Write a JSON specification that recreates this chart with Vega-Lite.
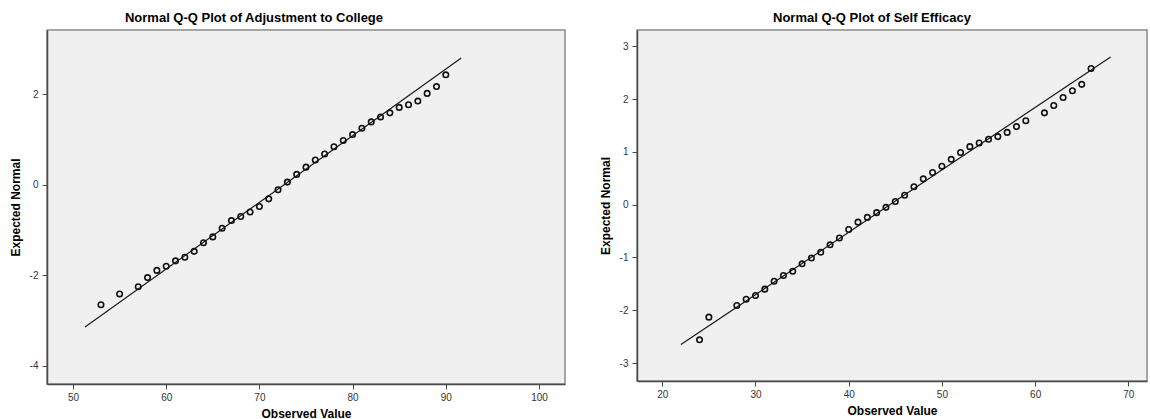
{
  "$schema": "https://vega.github.io/schema/vega-lite/v6.json",
  "padding": {"left": 8, "top": 11, "right": 2, "bottom": 0},
  "background": "white",
  "bounds": "flush",
  "spacing": 72,
  "config": {
    "font": "Liberation Sans",
    "view": {"fill": "#f0f0f0", "stroke": "#8a8a8a", "strokeWidth": 1.5},
    "axis": {
      "grid": false,
      "domainColor": "#4a4a4a",
      "domainWidth": 1.5,
      "tickColor": "#4a4a4a",
      "tickSize": 5,
      "labelFont": "Liberation Sans",
      "labelFontSize": 10,
      "labelColor": "#333333",
      "labelExpr": "'' + datum.value",
      "titleFont": "Liberation Sans",
      "titleFontSize": 12,
      "titleFontWeight": "bold",
      "titleColor": "#000000"
    },
    "axisX": {"labelPadding": 3, "titlePadding": 6},
    "axisY": {"labelPadding": 4, "titlePadding": 7},
    "title": {"font": "Liberation Sans", "fontSize": 13, "fontWeight": "bold", "color": "#000000", "offset": 5, "frame": "group", "anchor": "middle"}
  },
  "datasets": {
    "adj": [
      {"obs": 53, "exp": -2.65}, {"obs": 55, "exp": -2.41}, {"obs": 57, "exp": -2.25},
      {"obs": 58, "exp": -2.05}, {"obs": 59, "exp": -1.89}, {"obs": 60, "exp": -1.80},
      {"obs": 61, "exp": -1.68}, {"obs": 62, "exp": -1.60}, {"obs": 63, "exp": -1.47},
      {"obs": 64, "exp": -1.28}, {"obs": 65, "exp": -1.15}, {"obs": 66, "exp": -0.96},
      {"obs": 67, "exp": -0.79}, {"obs": 68, "exp": -0.70}, {"obs": 69, "exp": -0.60},
      {"obs": 70, "exp": -0.48}, {"obs": 71, "exp": -0.31}, {"obs": 72, "exp": -0.11},
      {"obs": 73, "exp": 0.06}, {"obs": 74, "exp": 0.23}, {"obs": 75, "exp": 0.39},
      {"obs": 76, "exp": 0.55}, {"obs": 77, "exp": 0.68}, {"obs": 78, "exp": 0.84},
      {"obs": 79, "exp": 0.98}, {"obs": 80, "exp": 1.11}, {"obs": 81, "exp": 1.25},
      {"obs": 82, "exp": 1.39}, {"obs": 83, "exp": 1.50}, {"obs": 84, "exp": 1.59},
      {"obs": 85, "exp": 1.71}, {"obs": 86, "exp": 1.77}, {"obs": 87, "exp": 1.85},
      {"obs": 88, "exp": 2.02}, {"obs": 89, "exp": 2.17}, {"obs": 90, "exp": 2.43}
    ],
    "adjLine": [{"obs": 51.29, "exp": -3.14}, {"obs": 91.66, "exp": 2.80}],
    "se": [
      {"obs": 24, "exp": -2.56}, {"obs": 25, "exp": -2.13}, {"obs": 28, "exp": -1.91},
      {"obs": 29, "exp": -1.79}, {"obs": 30, "exp": -1.72}, {"obs": 31, "exp": -1.60},
      {"obs": 32, "exp": -1.45}, {"obs": 33, "exp": -1.34}, {"obs": 34, "exp": -1.26},
      {"obs": 35, "exp": -1.12}, {"obs": 36, "exp": -1.01}, {"obs": 37, "exp": -0.90},
      {"obs": 38, "exp": -0.76}, {"obs": 39, "exp": -0.63}, {"obs": 40, "exp": -0.47},
      {"obs": 41, "exp": -0.33}, {"obs": 42, "exp": -0.24}, {"obs": 43, "exp": -0.15},
      {"obs": 44, "exp": -0.05}, {"obs": 45, "exp": 0.06}, {"obs": 46, "exp": 0.18},
      {"obs": 47, "exp": 0.34}, {"obs": 48, "exp": 0.49}, {"obs": 49, "exp": 0.61},
      {"obs": 50, "exp": 0.73}, {"obs": 51, "exp": 0.86}, {"obs": 52, "exp": 0.99},
      {"obs": 53, "exp": 1.10}, {"obs": 54, "exp": 1.17}, {"obs": 55, "exp": 1.24},
      {"obs": 56, "exp": 1.29}, {"obs": 57, "exp": 1.37}, {"obs": 58, "exp": 1.48},
      {"obs": 59, "exp": 1.59}, {"obs": 61, "exp": 1.74}, {"obs": 62, "exp": 1.88},
      {"obs": 63, "exp": 2.03}, {"obs": 64, "exp": 2.16}, {"obs": 65, "exp": 2.28},
      {"obs": 66, "exp": 2.58}
    ],
    "seLine": [{"obs": 22.0, "exp": -2.65}, {"obs": 68.1, "exp": 2.80}]
  },
  "hconcat": [
    {
      "title": {"text": "Normal Q-Q Plot of Adjustment to College", "dx": -52},
      "width": 518,
      "height": 354,
      "layer": [
        {
          "data": {"name": "adjLine"},
          "mark": {"type": "line", "color": "#1a1a1a", "strokeWidth": 1.2},
          "encoding": {
            "x": {"field": "obs", "type": "quantitative", "scale": {"domain": [47.21, 102.79], "nice": false, "zero": false}, "axis": {"title": "Observed Value", "values": [50, 60, 70, 80, 90, 100]}},
            "y": {"field": "exp", "type": "quantitative", "scale": {"domain": [-4.4, 3.42], "nice": false, "zero": false}, "axis": {"title": "Expected Normal", "values": [-4, -2, 0, 2]}}
          }
        },
        {
          "data": {"name": "adj"},
          "mark": {"type": "point", "shape": "circle", "filled": false, "color": "#111111", "strokeWidth": 1.6, "size": 30, "opacity": 1},
          "encoding": {
            "x": {"field": "obs", "type": "quantitative"},
            "y": {"field": "exp", "type": "quantitative"}
          }
        }
      ]
    },
    {
      "title": {"text": "Normal Q-Q Plot of Self Efficacy", "dx": -20},
      "width": 510,
      "height": 351,
      "layer": [
        {
          "data": {"name": "seLine"},
          "mark": {"type": "line", "color": "#1a1a1a", "strokeWidth": 1.2},
          "encoding": {
            "x": {"field": "obs", "type": "quantitative", "scale": {"domain": [17.29, 72.0], "nice": false, "zero": false}, "axis": {"title": "Observed Value", "values": [20, 30, 40, 50, 60, 70]}},
            "y": {"field": "exp", "type": "quantitative", "scale": {"domain": [-3.34, 3.31], "nice": false, "zero": false}, "axis": {"title": "Expected Normal", "values": [-3, -2, -1, 0, 1, 2, 3]}}
          }
        },
        {
          "data": {"name": "se"},
          "mark": {"type": "point", "shape": "circle", "filled": false, "color": "#111111", "strokeWidth": 1.6, "size": 30, "opacity": 1},
          "encoding": {
            "x": {"field": "obs", "type": "quantitative"},
            "y": {"field": "exp", "type": "quantitative"}
          }
        }
      ]
    }
  ]
}
